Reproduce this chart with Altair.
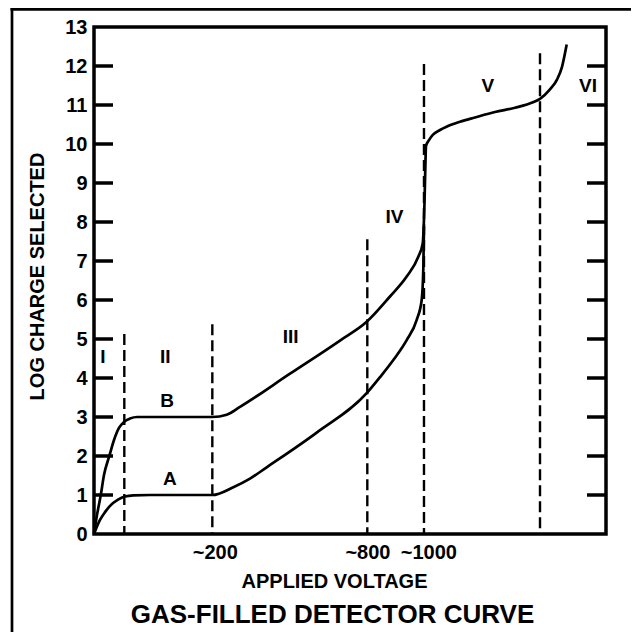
import altair as alt
import pandas as pd

# x positions: relative units (0..100) along the non-linear applied-voltage axis
curve_b_x = [0, 0.59, 1.31, 1.95, 2.99, 3.91, 4.88, 5.92, 7.03, 8.40, 23.11, 25.92, 28.52,
             38.28, 48.05, 53.26, 57.81, 61.07, 63.34, 64.20, 64.55, 64.75, 64.84, 65.43,
             66.21, 67.58, 68.95, 71.48, 74.41, 78.32, 82.23, 85.74, 87.11, 89.06, 90.43,
             91.41, 92.32]
curve_b_y = [0, 0.49, 0.99, 1.51, 2.0, 2.41, 2.72, 2.88, 2.96, 3.0, 3.0, 3.06, 3.26,
             4.11, 4.96, 5.44, 6.09, 6.60, 7.11, 7.45, 8.5, 9.6, 9.95, 10.1,
             10.24, 10.36, 10.45, 10.57, 10.68, 10.82, 10.93, 11.07, 11.16, 11.4, 11.65,
             11.98, 12.55]

curve_a_x = [0, 1.17, 2.15, 3.13, 4.69, 6.05, 7.68, 10.94, 23.11, 27.21, 30.47, 33.73,
             43.5, 53.26, 55.86, 58.46, 61.07, 63.03, 64.0, 64.32, 64.45]
curve_a_y = [0, 0.36, 0.56, 0.72, 0.88, 0.96, 0.99, 1.0, 1.0, 1.2, 1.42, 1.71,
             2.6, 3.61, 4.02, 4.46, 4.97, 5.49, 6.0, 6.8, 7.9]

boundary_x = [5.92, 23.11, 53.38, 64.45, 87.11]
boundary_top = [5.13, 5.38, 7.56, 12.05, 12.33]

label_text = ["I", "II", "III", "IV", "V", "VI", "A", "B"]
label_x = [1.76, 13.9, 38.4, 58.7, 76.9, 96.5, 14.8, 14.3]
label_y = [4.53, 4.55, 5.04, 8.12, 11.5, 11.5, 1.40, 3.42]

voltage_tick_pos = [23.6, 53.4, 65.3]
voltage_tick_labels = ["~200", "~800", "~1000"]

y_tick_values = list(range(0, 14))
inner_tick_values = list(range(1, 13))

FONT = "Liberation Sans"

curves = pd.concat([
    pd.DataFrame({"x": curve_a_x, "y": curve_a_y, "curve": "A"}),
    pd.DataFrame({"x": curve_b_x, "y": curve_b_y, "curve": "B"}),
])
bounds = pd.DataFrame({"x": boundary_x, "y": boundary_top, "base": 0})
labels = pd.DataFrame({"x": label_x, "y": label_y, "t": label_text})
ticks = pd.DataFrame({"y": inner_tick_values})
one = pd.DataFrame({"k": [0]})

xs = alt.Scale(domain=[0, 100], nice=False, zero=False)
ys = alt.Scale(domain=[0, 13], nice=False, zero=False)

expr = ""
for p, l in zip(voltage_tick_pos, voltage_tick_labels):
    expr += f"abs(datum.value - {p}) < 0.01 ? '{l}' : "
expr += "''"

x_axis = alt.Axis(values=voltage_tick_pos, labelExpr=expr, ticks=False, domain=False,
                  grid=False, labelPadding=8, labelFont=FONT, labelFontSize=20,
                  labelFontWeight="bold", labelColor="black",
                  title="APPLIED VOLTAGE", titleFont=FONT, titleFontSize=20,
                  titleFontWeight="bold", titleColor="black", titleX=240, titleY=53,
                  titleAlign="center", titleBaseline="alphabetic")
y_axis = alt.Axis(values=y_tick_values, ticks=False, domain=False, grid=False,
                  labelPadding=7, labelFont=FONT, labelFontSize=20, labelFontWeight="bold",
                  labelColor="black",
                  title="LOG CHARGE SELECTED", titleFont=FONT, titleFontSize=20,
                  titleFontWeight="bold", titleColor="black", titleX=-50.7, titleY=249,
                  titleAngle=270, titleAlign="center", titleBaseline="alphabetic")

X = alt.X("x:Q", scale=xs, axis=x_axis)
Y = alt.Y("y:Q", scale=ys, axis=y_axis)

lines = alt.Chart(curves).mark_line(interpolate="monotone", color="black",
                                    strokeWidth=2.7).encode(
    x=X, y=Y, detail="curve:N",
)

dashed = alt.Chart(bounds).mark_rule(color="black", strokeWidth=2.4,
                                     strokeDash=[11, 5]).encode(
    x=X, y=Y, y2="base:Q",
)

texts = alt.Chart(labels).mark_text(font=FONT, fontSize=19, fontWeight="bold",
                                    color="black", baseline="middle").encode(
    x=X, y=Y, text="t:N",
)

left_ticks = alt.Chart(ticks).mark_rule(color="black", strokeWidth=3.5).encode(
    y=Y, x=alt.value(0), x2=alt.value(19),
)
right_ticks = alt.Chart(ticks).mark_rule(color="black", strokeWidth=3.5).encode(
    y=Y, x=alt.value(493), x2=alt.value(512),
)

frame_top = alt.Chart(one).mark_rule(color="black", strokeWidth=2.7).encode(
    x=alt.value(-83.5), x2=alt.value(540), y=alt.value(-17.6))
frame_left = alt.Chart(one).mark_rule(color="black", strokeWidth=2.7).encode(
    x=alt.value(-82), y=alt.value(-19), y2=alt.value(606))

chart = alt.layer(
    lines, dashed, texts, left_ticks, right_ticks, frame_top, frame_left
).properties(
    width=512, height=507,
    autosize=alt.AutoSizeParams(type="none"),
    padding={"left": 86, "top": 19, "right": 25, "bottom": 98},
    title=alt.TitleParams("GAS-FILLED DETECTOR CURVE", orient="bottom", anchor="middle",
                          font=FONT, fontSize=26, fontWeight="bold", color="black",
                          dx=-17.5, offset=-11, baseline="alphabetic"),
).configure_view(stroke="black", strokeWidth=3.5)

chart.save("out.html", embed_options={"renderer": "svg", "actions": False})
